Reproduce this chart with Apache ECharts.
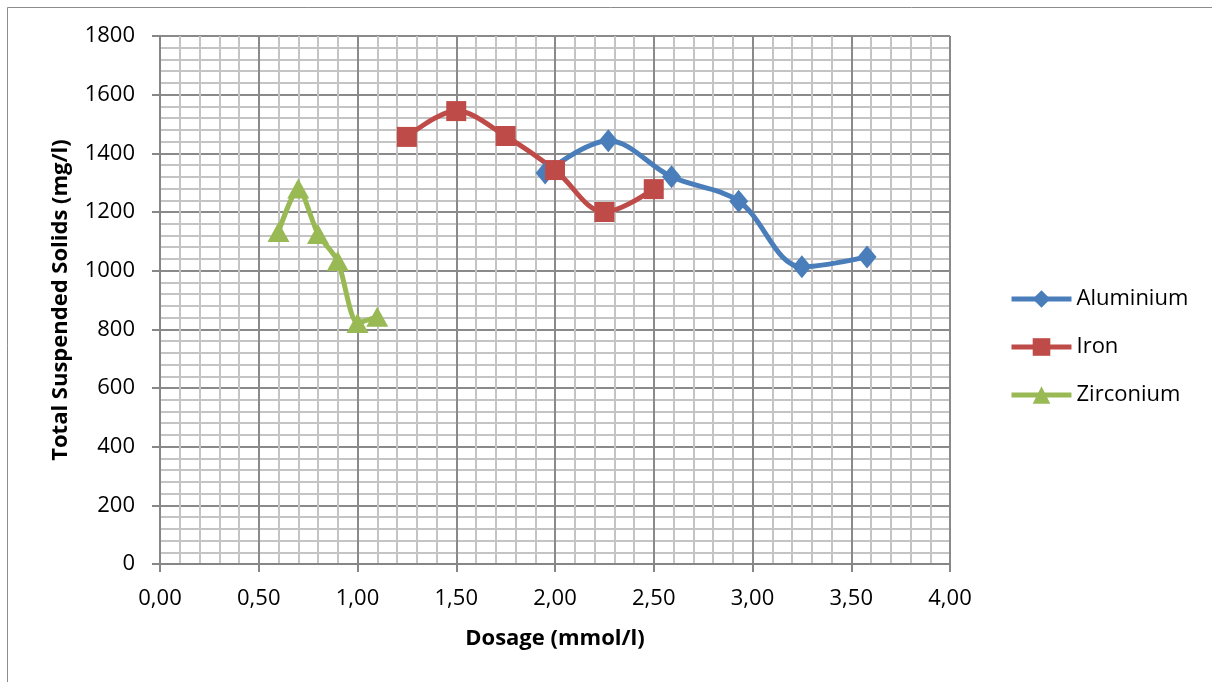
<!DOCTYPE html>
<html>
<head>
<meta charset="utf-8">
<script src="https://cdn.jsdelivr.net/npm/echarts@6/dist/echarts.min.js"></script>
<style>
  html, body { margin: 0; padding: 0; background: #fff; }
  #chart { width: 1212px; height: 682px; }
</style>
</head>
<body>
<div id="chart"></div>
<script>
// Dosage (mmol/l) and Total Suspended Solids (mg/l) per coagulant
const aluminiumDose = [1.95, 2.27, 2.59, 2.93, 3.25, 3.58];
const aluminiumTSS  = [1333, 1443, 1320, 1237, 1013, 1047];

const ironDose = [1.25, 1.50, 1.75, 2.00, 2.25, 2.50];
const ironTSS  = [1456, 1544, 1459, 1343, 1200, 1278];

const zirconiumDose = [0.60, 0.70, 0.80, 0.90, 1.00, 1.10];
const zirconiumTSS  = [1132, 1280, 1125, 1033, 822, 843];

const seriesNames = ['Aluminium', 'Iron', 'Zirconium'];
const seriesColors = ['#4a7ebb', '#be4b48', '#98b954'];

const pairs = (xs, ys) => xs.map((x, i) => [x, ys[i]]);

const font = '"Open Sans", "Liberation Sans", sans-serif';

const chart = echarts.init(document.getElementById('chart'));
chart.setOption({
  animation: false,
  backgroundColor: '#ffffff',
  textStyle: { fontFamily: font },
  graphic: [{
    type: 'rect',
    shape: { x: 7.5, y: 7.5, width: 1220, height: 700 },
    style: { fill: 'none', stroke: '#8c8c8c', lineWidth: 1 },
    silent: true
  }],
  grid: { left: 160, right: 262, top: 36, bottom: 118 },
  legend: {
    orient: 'vertical',
    left: 1004,
    top: 283,
    itemWidth: 60,
    itemHeight: 22,
    itemGap: 26,
    lineStyle: { width: 5 },
    textStyle: { fontFamily: font, fontSize: 22, color: '#000' },
    data: seriesNames
  },
  xAxis: {
    type: 'value',
    min: 0, max: 4, interval: 0.5,
    name: 'Dosage (mmol/l)',
    nameLocation: 'middle',
    nameGap: 64,
    nameTextStyle: { fontFamily: font, fontSize: 22, fontWeight: 'bold', color: '#000' },
    axisLine: { show: true, onZero: false, lineStyle: { color: '#868686', width: 2 } },
    axisTick: { show: true, length: 8, lineStyle: { color: '#868686', width: 2 } },
    axisLabel: {
      fontFamily: font, fontSize: 22, color: '#000', margin: 24,
      formatter: v => v.toFixed(2).replace('.', ',')
    },
    splitLine: { show: true, lineStyle: { color: '#8a8a8a', width: 2 } },
    minorTick: { show: false, splitNumber: 5 },
    minorSplitLine: { show: true, lineStyle: { color: '#c4c4c4', width: 2 } }
  },
  yAxis: {
    type: 'value',
    min: 0, max: 1800, interval: 200,
    name: 'Total Suspended Solids (mg/l)',
    nameLocation: 'middle',
    nameGap: 88,
    nameTextStyle: { fontFamily: font, fontSize: 22, fontWeight: 'bold', color: '#000' },
    axisLine: { show: true, lineStyle: { color: '#868686', width: 2 } },
    axisTick: { show: true, length: 8, lineStyle: { color: '#868686', width: 2 } },
    axisLabel: { fontFamily: font, fontSize: 22, color: '#000', margin: 25, formatter: v => String(v) },
    splitLine: { show: true, lineStyle: { color: '#8a8a8a', width: 2 } },
    minorTick: { show: false, splitNumber: 5 },
    minorSplitLine: { show: true, lineStyle: { color: '#c4c4c4', width: 2 } }
  },
  series: [
    {
      name: seriesNames[0], type: 'line', smooth: 0.35,
      data: pairs(aluminiumDose, aluminiumTSS),
      symbol: 'diamond', symbolSize: [19, 23],
      itemStyle: { color: seriesColors[0] },
      lineStyle: { color: seriesColors[0], width: 5 }
    },
    {
      name: seriesNames[1], type: 'line', smooth: 0.35,
      data: pairs(ironDose, ironTSS),
      symbol: 'rect', symbolSize: 20,
      itemStyle: { color: seriesColors[1] },
      lineStyle: { color: seriesColors[1], width: 5 }
    },
    {
      name: seriesNames[2], type: 'line', smooth: 0.25,
      data: pairs(zirconiumDose, zirconiumTSS),
      symbol: 'triangle', symbolSize: [22, 20],
      itemStyle: { color: seriesColors[2] },
      lineStyle: { color: seriesColors[2], width: 5 }
    }
  ]
});
</script>
</body>
</html>
